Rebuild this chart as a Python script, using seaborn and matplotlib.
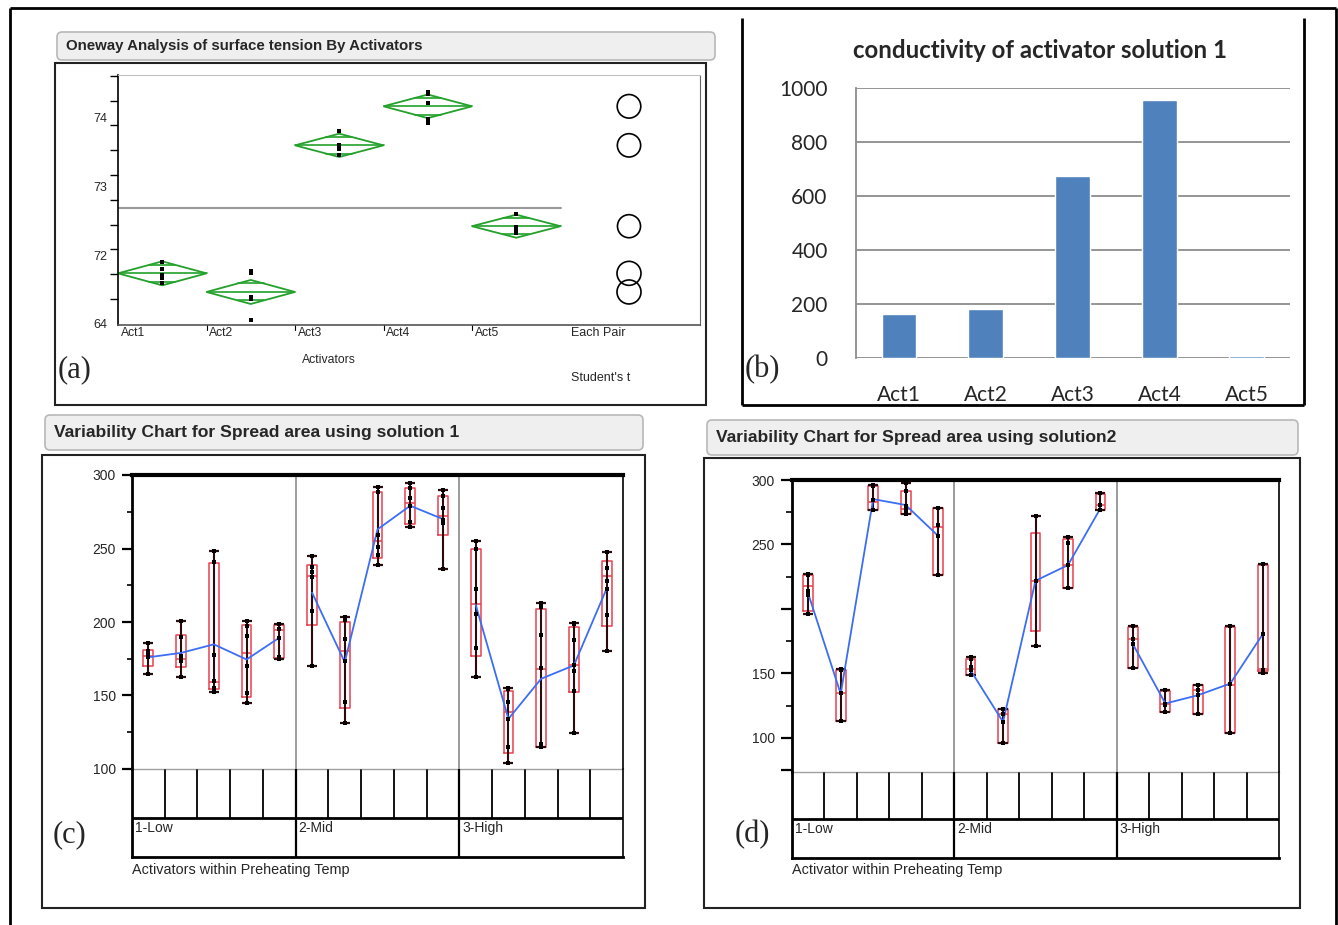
import numpy as np
import pandas as pd
import seaborn as sns
import matplotlib.pyplot as plt
from matplotlib.patches import Polygon, Ellipse, FancyBboxPatch, Rectangle

# panel (a): surface tension by activator (JMP oneway)
activators = ['Act1', 'Act2', 'Act3', 'Act4', 'Act5']
tension_points = [
    [71.90, 71.80, 71.71, 71.67, 71.59],
    [71.77, 71.74, 71.39, 71.36, 71.06],
    [73.80, 73.59, 73.57, 73.54, 73.45],
    [74.36, 74.33, 74.21, 73.97, 73.91],
    [72.59, 72.41, 72.35, 72.32],
]
tension_ci = [0.174, 0.174, 0.169, 0.171, 0.167]
tension_yticks = [71, 72, 73, 74]
tension_yticklabels = ['64', '72', '73', '74']

# panel (b): conductivity
conductivity = [165, 183, 675, 957, 8]

# panels (c) and (d): spread area, 3 temps x 5 activators
temps = ['1-Low', '2-Mid', '3-High']

sol1_points = [
    [185.5, 180, 177.3, 176, 164.5],
    [200.5, 189.8, 176.6, 173.9, 173.2, 162.3],
    [248.6, 240.9, 177.3, 160.2, 155, 152.7],
    [200.9, 197.3, 190.2, 169.8, 151.8, 144.8],
    [198.9, 195.5, 189, 176, 174.8],
    [245.2, 237.5, 234, 230.7, 207.3, 170],
    [203.4, 201.1, 188.6, 173.2, 145.5, 131.4],
    [292, 288.6, 259, 250.7, 245.5, 239],
    [294.3, 291, 284.5, 278.9, 268.2, 264.8],
    [289.8, 285.7, 277.7, 269.3, 267.5, 236.1],
    [255.2, 250, 222.3, 205.7, 182, 162.5],
    [155.2, 154.5, 145.5, 134, 115.2, 103.9],
    [212.7, 210.2, 191.4, 168.9, 117, 114.8],
    [199.3, 198.9, 187.5, 171, 166.6, 153.4, 124.8],
    [247.3, 236.8, 227.7, 222.7, 205, 180.5],
]
sol1_q1 = [170.2, 169.1, 154.5, 148.9, 175.7, 198.2, 141.4, 243.6, 267, 259.1,
           176.8, 111.1, 115.2, 152.7, 197]
sol1_med = [176.6, 174.5, 159, 178.9, 194.8, 231.1, 180, 255, 280.7, 272.3,
            212.5, 139.1, 168.2, 170.5, 231.1]
sol1_q3 = [181, 191.4, 240, 198, 198, 238.9, 199.8, 288.6, 291.4, 285.7,
           250, 153.4, 209, 196.6, 241.4]
sol1_mean = [176, 179, 184.8, 174.5, 189.3, 220, 172.7, 263, 279.1, 270,
             211.8, 134.1, 161.4, 170.5, 222.7]

sol2_points = [
    [227.2, 226.2, 213.7, 210.6, 196.4],
    [153.1, 152.6, 134.7, 113.5],
    [296.1, 295.3, 284.5, 277],
    [297.4, 291.5, 279.8, 276.7, 273.6],
    [278.5, 265, 256.7, 226.7],
    [162.4, 161.6, 155, 152.5, 148.6],
    [122.8, 118.9, 112.4, 96.4],
    [272, 221.9, 171.4],
    [256, 250.8, 234, 216.4],
    [289.7, 280.6, 276.7],
    [186.9, 177, 172.7, 154.3],
    [137, 126.7, 125.4, 120.2],
    [141.4, 137, 133, 118.9],
    [186.9, 142.2, 104.1],
    [234.5, 180.5, 152.5, 150],
]
sol2_q1 = [198.7, 113.5, 277, 273.6, 226.7, 148.6, 96.4, 183, 216.4, 276.7,
           154.3, 120.2, 118.9, 104.1, 151.7]
sol2_med = [217.9, 134.7, 283.2, 277.2, 263.7, 153.8, 118.9, 221.9, 234, 280.6,
            177, 126.7, 137, 141.4, 153.8]
sol2_q3 = [226.2, 152.6, 295.3, 291.5, 278, 161.6, 122.3, 258.6, 254.2, 288.9,
           186.2, 136.2, 140.9, 186.2, 234]
sol2_mean = [211.9, 134.2, 285.2, 280.6, 256.7, 152.5, 112.4, 221.9, 234, 278,
             172.7, 126.7, 133.1, 142.2, 180.5]

W, H = 1338, 925
sns.set_style('white')
plt.rcParams['font.family'] = ['Liberation Sans', 'DejaVu Sans']

fig = plt.figure(figsize=(W / 100, H / 100), dpi=100)
fig.patch.set_facecolor('white')

# full-figure canvas in pixel units for frames, title bars and loose text
bg = fig.add_axes([0, 0, 1, 1], zorder=-1)
bg.set_xlim(0, W)
bg.set_ylim(H, 0)
bg.axis('off')


def px_axes(x0, y0, x1, y1):
    a = fig.add_axes([x0 / W, 1 - y1 / H, (x1 - x0) / W, (y1 - y0) / H])
    a.set_facecolor('none')
    return a


def line(xs, ys, color='black', lw=2):
    bg.plot(xs, ys, color=color, lw=lw, solid_capstyle='butt')


def frame(x0, y0, x1, y1, color='#222222', lw=1.5):
    bg.add_patch(Rectangle((x0, y0), x1 - x0, y1 - y0, fill=False,
                           edgecolor=color, lw=lw))


def title_bar(x0, y0, x1, y1, text, size):
    bg.add_patch(FancyBboxPatch((x0, y0), x1 - x0, y1 - y0,
                                boxstyle='round,pad=0,rounding_size=5',
                                facecolor='#efefef', edgecolor='#b8b8b8', lw=1.2))
    bg.text(x0 + 9, (y0 + y1) / 2, text, fontsize=size, fontweight='bold',
            va='center', ha='left')


def panel_tag(x, y, tag):
    bg.text(x, y, tag, fontsize=22, family='Liberation Serif', va='center', ha='left')


# outer border and panel frames
line([10, 1336], [8, 8])
line([10, 10], [8, 925])
line([1336, 1336], [8, 925])
line([742, 742], [18, 405])
line([1304, 1304], [18, 405])
line([742, 1304], [405, 405])
frame(55, 63, 706, 405)
frame(42, 455, 645, 908)
frame(704, 458, 1300, 908)

title_bar(57, 32, 715, 60, 'Oneway Analysis of surface tension By Activators', 10.8)
title_bar(45, 415, 643, 450, 'Variability Chart for Spread area using solution 1', 12.6)
title_bar(707, 420, 1298, 455, 'Variability Chart for Spread area using solution2', 12.6)

# ---------------- panel (a)
ax = px_axes(118, 75, 700, 325)
band = 88.5
ax.set_xlim(-0.5, -0.5 + 582 / band)
ax.set_ylim(70.985, 74.61)
green = '#23a12b'
ppx = band
ppy = 250 / (74.61 - 70.985)
rows = []
for i, pts in enumerate(tension_points):
    m = np.mean(pts)
    h = tension_ci[i]
    # means diamond with overlap marks
    ax.add_patch(Polygon([(i - 0.5, m), (i, m + h), (i + 0.5, m), (i, m - h)],
                         closed=True, fill=False, edgecolor=green, lw=1.3))
    ax.plot([i - 0.5, i + 0.5], [m, m], color=green, lw=1.2)
    d = h / np.sqrt(2)
    half = 0.5 * (1 - 1 / np.sqrt(2))
    for s in (1, -1):
        ax.plot([i - half, i + half], [m + s * d] * 2, color=green, lw=1.2)
    # comparison circle
    ax.add_patch(Ellipse((5.274, m), 2 * h * ppy / ppx, 2 * h, fill=False,
                         edgecolor='black', lw=1.2))
    for v in pts:
        rows.append({'pos': i, 'tension': v})
df_a = pd.DataFrame(rows)
grand = df_a['tension'].mean()
ax.plot([-0.5, 4.5], [grand, grand], color='#9a9a9a', lw=1.5)
sns.scatterplot(data=df_a, x='pos', y='tension', marker='s', s=7, color='black',
                linewidth=0, ax=ax, legend=False, zorder=5)
ax.set_xticks([])
ax.set_xlabel('')
ax.set_ylabel('')
ax.set_yticks(tension_yticks, tension_yticklabels)
ax.set_yticks(np.linspace(71, 74.6, 11), minor=True)
ax.tick_params(axis='y', which='major', length=0, pad=8, labelsize=9)
ax.tick_params(axis='y', which='minor', length=6, width=1, color='black', left=True)
ax.spines['left'].set_color('black')
ax.spines['left'].set_linewidth(1.2)
ax.spines['top'].set_color('#c0c0c0')
ax.spines['right'].set_color('#666666')
ax.spines['bottom'].set_color('#555555')
ax.spines['bottom'].set_linewidth(1.2)
xt = ax.get_xaxis_transform()
for i, lab in enumerate(activators):
    ax.text(i - 0.5 + 0.03, -0.006, lab, transform=xt, fontsize=8.7, va='top', ha='left')
    if i > 0:
        ax.plot([i - 0.5] * 2, [0, -0.018], transform=xt, color='black', lw=0.8,
                clip_on=False)
bg.text(329, 360, 'Activators', fontsize=8.8, ha='center', va='center')
bg.text(571, 333, 'Each Pair', fontsize=9, ha='left', va='center')
bg.text(571, 378, "Student's t", fontsize=9, ha='left', va='center')
panel_tag(58, 370, '(a)')

# ---------------- panel (b)
axb = px_axes(855.5, 88.3, 1290, 358.3)
df_b = pd.DataFrame({'activator': activators, 'conductivity': conductivity})
sns.barplot(data=df_b, x='activator', y='conductivity', color='#4F81BD',
            saturation=1, width=0.4, ax=axb, zorder=3)
axb.set_ylim(0, 1000)
axb.set_xlim(-0.5, 4.5)
axb.set_yticks(range(0, 1001, 200))
axb.yaxis.grid(True, color='#8c8c8c', lw=1.3)
axb.set_axisbelow(True)
for side in ('top', 'right', 'bottom'):
    axb.spines[side].set_visible(False)
axb.spines['left'].set_color('#8c8c8c')
axb.spines['left'].set_linewidth(1.3)
axb.set_xlabel('')
axb.set_ylabel('')
axb.tick_params(axis='y', length=0, pad=20)
axb.tick_params(axis='x', length=0, pad=19)
for t in axb.get_xticklabels() + axb.get_yticklabels():
    t.set_family(['Lato', 'DejaVu Sans'])
    t.set_fontsize(15)
bg.text(1040, 51, 'conductivity of activator solution 1', fontsize=17.3,
        fontweight='bold', family=['Lato', 'DejaVu Sans'], ha='center', va='center')
panel_tag(745, 370, '(b)')


# ---------------- panels (c), (d)
def variability(ax, tab, points, q1, med, q3, means, ylim, major, major_labels,
                minor, split, tick_len):
    red = '#e8404f'
    rows = []
    for k, pts in enumerate(points):
        for v in pts:
            rows.append({'pos': k, 'temp': temps[k // 5], 'value': v})
    df = pd.DataFrame(rows)
    # quantile boxes
    stats = [dict(med=med[k], q1=q1[k], q3=q3[k], whislo=q1[k], whishi=q3[k],
                  fliers=[]) for k in range(len(points))]
    ax.bxp(stats, positions=range(len(points)), widths=0.3, showcaps=False,
           showfliers=False, manage_ticks=False,
           boxprops=dict(color=red, lw=1.1), medianprops=dict(color=red, lw=1.1),
           whiskerprops=dict(lw=0))
    # range bars
    lo = df.groupby('pos')['value'].min().values
    hi = df.groupby('pos')['value'].max().values
    mid = (lo + hi) / 2
    ax.errorbar(range(len(points)), mid, yerr=[mid - lo, hi - mid], fmt='none',
                ecolor='#2b0b0b', elinewidth=1.5, capsize=3.5, capthick=1.6,
                zorder=3)
    # cell means, joined within each temperature
    df_m = pd.DataFrame({'pos': range(len(means)), 'mean': means,
                         'temp': [temps[k // 5] for k in range(len(means))]})
    sns.lineplot(data=df_m, x='pos', y='mean', units='temp', estimator=None,
                 color='#3b6ef5', lw=1.3, ax=ax, zorder=4)
    sns.scatterplot(data=df, x='pos', y='value', marker='s', s=7, color='black',
                    linewidth=0, ax=ax, legend=False, zorder=5)
    for sep in (4.5, 9.5):
        ax.axvline(sep, color='#8a8a8a', lw=1.2)
    ax.set_xlim(-0.5, 14.5)
    ax.set_ylim(*ylim)
    ax.set_xticks([])
    ax.set_xlabel('')
    ax.set_ylabel('')
    ax.set_yticks(major, major_labels)
    ax.set_yticks(minor, minor=True)
    ax.tick_params(axis='y', which='major', length=tick_len, width=1.6,
                   color='black', left=True, pad=4.5, labelsize=10)
    ax.tick_params(axis='y', which='minor', length=tick_len / 2, width=1.2,
                   color='black', left=True)
    ax.spines['top'].set_color('black')
    ax.spines['top'].set_linewidth(3)
    ax.spines['left'].set_color('black')
    ax.spines['left'].set_linewidth(2)
    ax.spines['right'].set_color('black')
    ax.spines['right'].set_linewidth(1.2)
    ax.spines['bottom'].set_color('#a0a0a0')
    ax.spines['bottom'].set_linewidth(1)

    # grouping table under the chart
    tab.set_xlim(-0.5, 14.5)
    tab.set_ylim(0, 1)
    tab.set_xticks([])
    tab.set_yticks([])
    for b in range(14):
        x = b + 0.5
        if b in (4, 9):
            tab.plot([x, x], [0, 1], color='black', lw=1.6)
        else:
            tab.plot([x, x], [split, 0.985], color='black', lw=1.3)
    tab.plot([-0.5, 14.5], [split, split], color='black', lw=2)
    for t, name in enumerate(temps):
        tab.text(5 * t - 0.5 + 0.08, split - 0.03, name, fontsize=10,
                 ha='left', va='top')
    tab.spines['top'].set_visible(False)
    tab.spines['left'].set_color('black')
    tab.spines['left'].set_linewidth(2)
    tab.spines['bottom'].set_color('black')
    tab.spines['bottom'].set_linewidth(2)
    tab.spines['right'].set_color('black')
    tab.spines['right'].set_linewidth(1.2)


axc = px_axes(132, 475, 623, 769)
tabc = px_axes(132, 769, 623, 857)
variability(axc, tabc, sol1_points, sol1_q1, sol1_med, sol1_q3, sol1_mean,
            (100, 300), [100, 150, 200, 250, 300],
            ['100', '150', '200', '250', '300'], [125, 175, 225, 275],
            (857 - 818) / 88, 7)
bg.text(132, 870, 'Activators within Preheating Temp', fontsize=10.4,
        ha='left', va='center')
panel_tag(53, 835, '(c)')

axd = px_axes(792, 480, 1279, 772)
tabd = px_axes(792, 772, 1279, 858)
variability(axd, tabd, sol2_points, sol2_q1, sol2_med, sol2_q3, sol2_mean,
            (73.6, 300), [75, 100, 150, 200, 250, 300],
            ['', '100', '150', '', '250', '300'], [125, 175, 225, 275],
            (858 - 819) / 86, 8)
bg.text(792, 870, 'Activator within Preheating Temp', fontsize=10.4,
        ha='left', va='center')
panel_tag(735, 835, '(d)')

fig.savefig('out.png', dpi=100, facecolor='white')
